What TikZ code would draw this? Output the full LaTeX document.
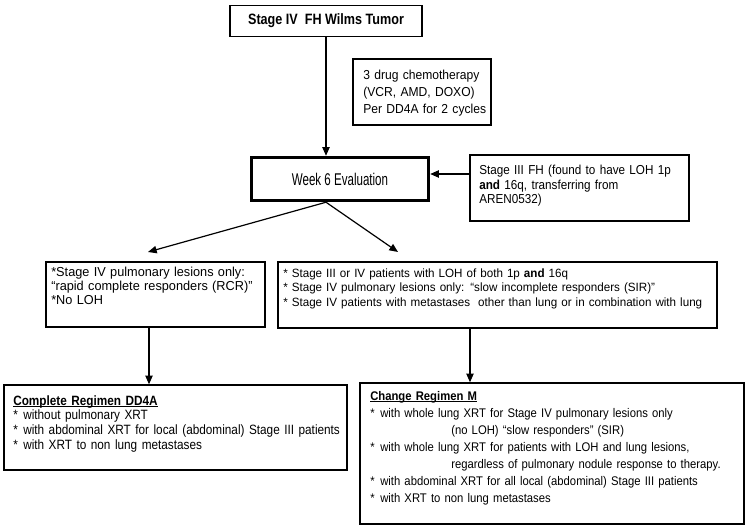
\documentclass[tikz,border=0pt]{standalone}
\usepackage{fontspec}
\setmainfont{Liberation Sans}
\usetikzlibrary{arrows.meta}
\newcommand{\fsz}[3]{\fontsize{#1}{#2}\selectfont\addfontfeatures{FakeStretch=#3}}
\newcommand{\blt}{\makebox[7.5pt][l]{*}}
\newcommand{\ulx}[1]{\setbox0\hbox{#1}\rlap{\rule[-1.5pt]{\wd0}{0.6pt}}\box0}
\begin{document}
\begin{tikzpicture}[x=0.75pt,y=-0.75pt,
  box/.style={draw, line width=1.1pt, inner sep=0pt},
  txt/.style={inner sep=0pt, anchor=base west, align=left},
  arr/.style={line width=0.9pt, -{Triangle[length=6.5pt,width=5.5pt]}}]
\useasboundingbox (0,0) rectangle (750,530);

\node[box, line width=1.4pt, minimum width=192*0.75pt, minimum height=31*0.75pt,
  font=\fsz{11.25pt}{13pt}{0.84}\bfseries] (top) at (326,21) {Stage IV\ \ FH Wilms Tumor};

\node[box, line width=2.6pt, minimum width=177*0.75pt, minimum height=43*0.75pt,
  font=\fsz{12.75pt}{14pt}{0.68}] (w6) at (340,179) {Week 6 Evaluation};

\node[box, minimum width=138*0.75pt, minimum height=66*0.75pt] (chemo) at (422,92) {};
\node[txt, text width=200*0.75pt, font=\fsz{9.75pt}{12.75pt}{0.93}] (chemo-t) at (363,79.5)
  {3 drug chemotherapy\\(VCR, AMD, DOXO)\\Per DD4A for 2 cycles};

\node[box, minimum width=219*0.75pt, minimum height=66*0.75pt] (st3) at (579.5,188) {};
\node[txt, text width=300*0.75pt, font=\fsz{9.75pt}{10.9pt}{0.9}] (st3-t) at (479,174.7)
  {Stage III FH (found to have LOH 1p\\\textbf{and} 16q, transferring from\\AREN0532)};

\node[box, minimum width=219*0.75pt, minimum height=65*0.75pt] (lm) at (155.5,294.5) {};
\node[txt, text width=300*0.75pt, font=\fsz{9.75pt}{10.5pt}{0.98}] (lm-t) at (51,276.5)
  {*Stage IV pulmonary lesions only:\\{}“rapid complete responders (RCR)”\\{}*No LOH};

\node[box, minimum width=439*0.75pt, minimum height=66*0.75pt] (rm) at (497.5,295) {};
\node[txt, text width=500*0.75pt, font=\fsz{9pt}{10.9pt}{0.97}] (rm-t) at (283,277.3)
  {* Stage III or IV patients with LOH of both 1p \textbf{and} 16q\\{}%
   * Stage IV pulmonary lesions only: “slow incomplete responders (SIR)”\\{}%
   * Stage IV patients with metastases\ \ other than lung or in combination with lung};

\node[box, minimum width=343*0.75pt, minimum height=85*0.75pt] (bl) at (175.5,427.5) {};
\node[txt, text width=400*0.75pt, font=\fsz{10.1pt}{11pt}{0.875}] (bl-t) at (13,405.3)
  {\ulx{\textbf{Complete Regimen DD4A}}\\
   \blt without pulmonary XRT\\
   \blt with abdominal XRT for local (abdominal) Stage III patients\\
   \blt with XRT to non lung metastases};

\node[box, minimum width=384*0.75pt, minimum height=141*0.75pt] (br) at (552,453.5) {};
\node[txt, text width=450*0.75pt, font=\fsz{9.4pt}{12.75pt}{0.9}] (br-t) at (370,400.3)
  {\ulx{\textbf{Change Regimen M}}\\
   \blt with whole lung XRT for Stage IV pulmonary lesions only\\
   \hspace*{60.75pt}(no LOH) “slow responders” (SIR)\\
   \blt with whole lung XRT for patients with LOH and lung lesions,\\
   \hspace*{60.75pt}regardless of pulmonary nodule response to therapy.\\
   \blt with abdominal XRT for all local (abdominal) Stage III patients\\
   \blt with XRT to non lung metastases};

\coordinate (hline) at (0,174);
\coordinate (ltip) at (148,252);
\coordinate (rtip) at (398,252);
\coordinate (lx) at (149,0);
\coordinate (rx) at (470,0);

\draw[arr] (top.south) -- (top.south |- w6.north);
\draw[arr] (st3.west |- hline) -- (w6.east |- hline);
\draw[arr] (w6.south -| top.south) -- (ltip);
\draw[arr] (w6.south -| top.south) -- (rtip);
\draw[arr] (lm.south -| lx) -- (bl.north -| lx);
\draw[arr] (rm.south -| rx) -- (br.north -| rx);
\end{tikzpicture}
\end{document}
